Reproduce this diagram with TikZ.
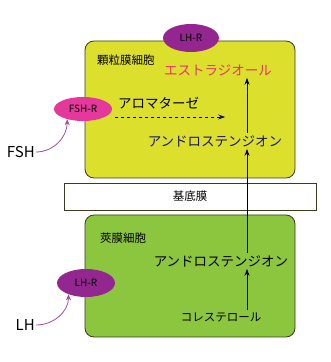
\documentclass[tikz,border=0pt]{standalone}
\usepackage{fontspec}
\setmainfont{Noto Sans CJK JP}
\usetikzlibrary{arrows.meta, positioning, shapes.geometric}

\definecolor{granulosa}{HTML}{DCE02C}
\definecolor{theca}{HTML}{8CC63F}
\definecolor{lhpurple}{HTML}{93278F}
\definecolor{fshpink}{HTML}{E4399B}
\definecolor{hormline}{HTML}{A24A9E}
\definecolor{estrared}{HTML}{E8336D}
\definecolor{navy}{HTML}{1B1464}
\definecolor{edge}{HTML}{3A3A20}

\tikzset{
  cellbox/.style={draw=edge, thick, rounded corners=9pt},
  receptor/.style={ellipse, draw=none, inner sep=0pt, font=\fontsize{10}{12}\selectfont},
  hormone/.style={draw=hormline, thick, -{Stealth[length=6pt,width=5pt]}},
  step arrow/.style={thick, -{Stealth[length=7pt,width=5pt]}},
  big label/.style={inner sep=2pt, font=\fontsize{13.5}{16}\selectfont},
  small label/.style={inner sep=2pt, font=\fontsize{11.5}{14}\selectfont}
}

\begin{document}
\begin{tikzpicture}[x=1pt,y=1pt]
    \useasboundingbox (0,0) rectangle (331,362);

    % cells
    \draw [cellbox, fill=granulosa] (85,184) rectangle (295,321);
    \draw [cellbox, fill=theca] (85,25) rectangle (295,147);

    % basement membrane
    \node [draw=edge, minimum width=252pt, minimum height=27pt, inner sep=0pt,
           font=\fontsize{11.5}{14}\selectfont] (membrane) at (190,165.5) {基底膜};

    % receptors
    \node [receptor, fill=lhpurple, minimum width=56pt, minimum height=28pt] (lhrtop) at (191,324) {LH-R};
    \node [receptor, fill=fshpink, minimum width=58pt, minimum height=24pt] (fshr) at (83,253) {FSH-R};
    \node [receptor, fill=lhpurple, minimum width=58pt, minimum height=28pt] (lhr) at (86,79) {LH-R};

    % granulosa cell
    \node [small label, anchor=west] (granname) at (95,302) {顆粒膜細胞};
    \node [big label, text=estrared] (estradiol) at (218,292) {エストラジオール};
    \node [big label, anchor=west] (aromatase) at (116,259) {アロマターゼ};
    \node [big label, text=navy] (andro1) at (215,221) {アンドロステンジオン};

    % theca cell
    \node [small label, anchor=west] (thecaname) at (98,124) {莢膜細胞};
    \node [big label] (andro2) at (221,101) {アンドロステンジオン};
    \node [small label] (chol) at (221,45) {コレステロール};

    % hormones
    \node [inner sep=1pt, anchor=east, font=\fontsize{15}{18}\selectfont] (fsh) at (36,210) {FSH};
    \node [inner sep=1pt, anchor=east, font=\fontsize{15}{18}\selectfont] (lh) at (36,37) {LH};

    \coordinate (axis) at (247,0);

    \draw [hormone] (fsh.east) to [out=0, in=-90] (fshr.-147);
    \draw [hormone] (lh.east) to [out=0, in=-90] (lhr.-147);

    \draw [dashed, thick, shorten <=3pt, -{Stealth[length=7pt,width=5pt]}, arrows={-{Stealth[color=navy,length=7pt,width=5pt]}}]
        ([yshift=-8pt]fshr.east) -- ++(113,0);

    \draw [step arrow] (andro1.north -| axis) -- (estradiol.south -| axis);
    \draw [step arrow] (andro2.north -| axis) -- (andro1.south -| axis);
    \draw [step arrow] (chol.north -| axis) -- (andro2.south -| axis);
\end{tikzpicture}
\end{document}
